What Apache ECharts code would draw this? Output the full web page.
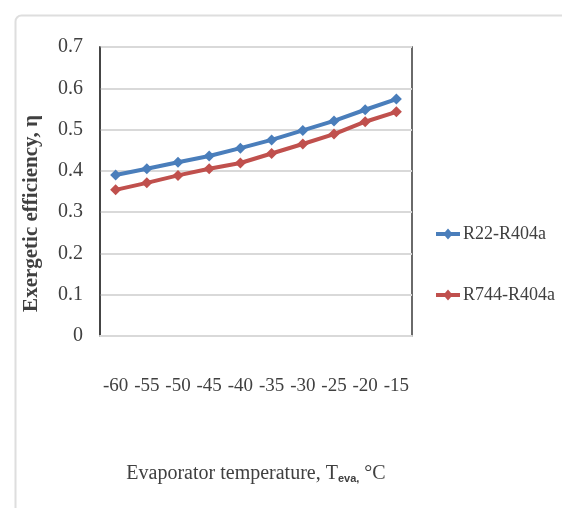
<!DOCTYPE html>
<html><head><meta charset="utf-8">
<script src="https://cdn.jsdelivr.net/npm/echarts@6/dist/echarts.min.js"></script>
<style>html,body{margin:0;padding:0;background:#fff}#c{width:562px;height:508px}</style>
</head><body><div id="c"></div>
<script>
const categories = ['-60','-55','-50','-45','-40','-35','-30','-25','-20','-15'];
const r22 = [0.390,0.405,0.421,0.436,0.455,0.475,0.498,0.521,0.548,0.574];
const r744 = [0.354,0.371,0.389,0.405,0.419,0.442,0.465,0.489,0.519,0.543];
const yTicks = [0,0.1,0.2,0.3,0.4,0.5,0.6,0.7];
const seriesNames = ['R22-R404a','R744-R404a'];
const serif = '"Liberation Serif","Times New Roman",serif';

const chart = echarts.init(document.getElementById('c'), null, {renderer:'canvas'});
chart.setOption({
  animation:false,
  backgroundColor:'#fff',
  graphic:[{type:'rect',left:13,top:13,shape:{width:600,height:600,r:6},
    style:{fill:'none',stroke:'#dedede',lineWidth:2},silent:true}],
  grid:{left:100,top:47,width:312,height:289,show:true,borderColor:'#3a3a3a',borderWidth:1.5,backgroundColor:'transparent'},
  legend:{orient:'vertical',left:431,top:220,itemWidth:24,itemHeight:11,itemGap:43,
    textStyle:{fontFamily:serif,fontSize:18,color:'#404040',padding:[0,0,0,-2]},
    data:seriesNames.map(n=>({name:n,icon:'path://M0,3.5h9l3,-3.5l3,3.5h9v4h-9l-3,3.5l-3,-3.5h-9z'}))},
  xAxis:{type:'category',data:categories,boundaryGap:true,
    name:'Evaporator temperature, T{s|eva,} °C',nameLocation:'middle',nameGap:127,
    nameTextStyle:{fontFamily:serif,fontSize:20,color:'#404040',
      rich:{s:{fontFamily:'"Liberation Sans",Arial,sans-serif',fontSize:11,fontWeight:'bold',color:'#404040',verticalAlign:'bottom',padding:[10,0,0,0]}}},
    axisLine:{show:true,lineStyle:{color:'#d9d9d9',width:2}},
    axisTick:{show:false},
    axisLabel:{interval:0,margin:41,fontFamily:serif,fontSize:19,color:'#404040'}},
  yAxis:{type:'value',min:0,max:0.7,interval:0.1,
    name:'Exergetic efficiency, η',nameLocation:'middle',nameGap:58,nameRotate:90,
    nameTextStyle:{fontFamily:serif,fontSize:21,fontWeight:'bold',color:'#404040',padding:[0,44,0,0]},
    axisLine:{show:true,lineStyle:{color:'#3a3a3a',width:1.5}},
    axisTick:{show:false},
    splitLine:{lineStyle:{color:'#d9d9d9',width:2}},
    axisLabel:{margin:17,fontFamily:serif,fontSize:20,color:'#404040',
      formatter:v=>{const t=yTicks.find(x=>Math.abs(x-v)<1e-9);return t===undefined?'':String(t);}}},
  series:[
    {name:seriesNames[0],type:'line',data:r22,symbol:'diamond',symbolSize:11,
      lineStyle:{width:4,color:'#4a7ebb'},itemStyle:{color:'#4a7ebb'}},
    {name:seriesNames[1],type:'line',data:r744,symbol:'diamond',symbolSize:11,
      lineStyle:{width:4,color:'#c0504d'},itemStyle:{color:'#c0504d'}}
  ]
});
</script></body></html>
